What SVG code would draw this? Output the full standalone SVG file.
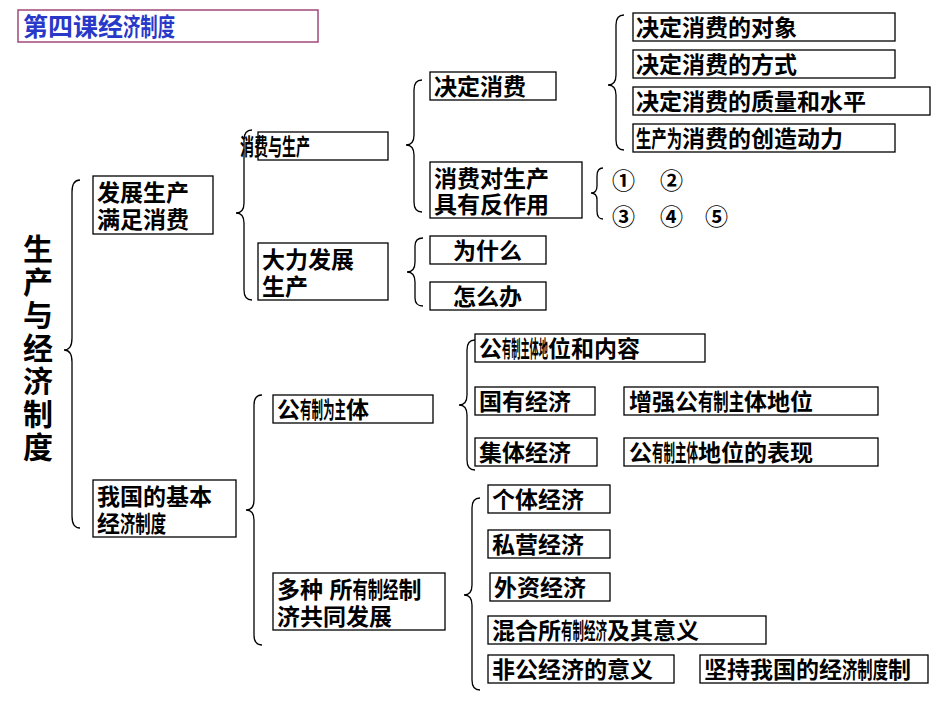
<svg xmlns="http://www.w3.org/2000/svg" width="950" height="713" viewBox="0 0 950 713">
<style>
.b{fill:#fff;stroke:#000;stroke-width:1.3}
text{font-family:"Liberation Sans","Noto Sans CJK SC",sans-serif;font-weight:bold;font-size:23px;fill:#000}
.br{fill:none;stroke:#000;stroke-width:1.3}
.v{font-size:30px}
</style>
<rect width="950" height="713" fill="#fff"/>
<g id="title"><rect x="18" y="10" width="300" height="32" fill="#fff" stroke="#a04878" stroke-width="1.5"/>
<text x="23" y="36" style="fill:#2838c8;font-size:25px">第四课经<tspan textLength="52" lengthAdjust="spacingAndGlyphs">济制度</tspan></text></g>
<g id="root"><text class="v" x="23" y="260">生</text><text class="v" x="23" y="293">产</text><text class="v" x="23" y="326">与</text><text class="v" x="23" y="359">经</text><text class="v" x="23" y="392">济</text><text class="v" x="23" y="425">制</text><text class="v" x="23" y="458">度</text></g>
<g id="connectors">
<path class="br" d="M80,180 Q72,180 72,192 L72,338 Q72,350 64,350 Q72,350 72,362 L72,516 Q72,528 80,528"/>
<path class="br" d="M252,130 Q244,130 244,140 L244,203 Q244,213 236,213 Q244,213 244,223 L244,290 Q244,300 252,300"/>
<path class="br" d="M422,80 Q414,80 414,90 L414,135 Q414,145 406,145 Q414,145 414,155 L414,202 Q414,212 422,212"/>
<path class="br" d="M624,15 Q616,15 616,25 L616,75 Q616,85 608,85 Q616,85 616,95 L616,140 Q616,150 624,150"/>
<path class="br" d="M603,168 Q597,168 597,176 L597,186 Q597,193 591,193 Q597,193 597,200 L597,211 Q597,219 603,219"/>
<path class="br" d="M423,238 Q415,238 415,246 L415,262 Q415,272 407,272 Q415,272 415,282 L415,298 Q415,306 423,306"/>
<path class="br" d="M475,340 Q467,340 467,350 L467,395 Q467,405 459,405 Q467,405 467,415 L467,460 Q467,470 475,470"/>
<path class="br" d="M262,395 Q254,395 254,405 L254,500 Q254,510 246,510 Q254,510 254,520 L254,635 Q254,645 262,645"/>
<path class="br" d="M480,498 Q472,498 472,508 L472,585 Q472,595 464,595 Q472,595 472,605 L472,680 Q472,690 480,690"/>
</g>
<g id="n1"><rect class="b" x="93" y="176" width="120" height="58"/><text x="97" y="201">发展生产</text><text x="97" y="228">满足消费</text></g>
<g id="n2"><rect class="b" x="93" y="480" width="143" height="57"/><text x="97" y="505">我国的基本</text><text x="97" y="532">经<tspan textLength="46" lengthAdjust="spacingAndGlyphs">济制度</tspan></text></g>
<g id="n3"><rect class="b" x="258" y="132" width="130" height="28"/><text x="240" y="155" textLength="70" lengthAdjust="spacingAndGlyphs">消费与生产</text></g>
<g id="n4"><rect class="b" x="258" y="243" width="130" height="57"/><text x="262" y="268">大力发展</text><text x="262" y="295">生产</text></g>
<g id="n5"><rect class="b" x="430" y="72" width="126" height="28"/><text x="434" y="95">决定消费</text></g>
<g id="n6"><rect class="b" x="430" y="162" width="152" height="56"/><text x="434" y="187">消费对生产</text><text x="434" y="213">具有反作用</text></g>
<g id="n7"><rect class="b" x="633" y="13" width="262" height="28"/><text x="636" y="36">决定消费的对象</text></g>
<g id="n8"><rect class="b" x="633" y="50" width="262" height="28"/><text x="636" y="73">决定消费的方式</text></g>
<g id="n9"><rect class="b" x="633" y="87" width="297" height="28"/><text x="636" y="110">决定消费的质量和水平</text></g>
<g id="n10"><rect class="b" x="633" y="124" width="262" height="28"/><text x="636" y="147"><tspan textLength="46" lengthAdjust="spacingAndGlyphs">生产为</tspan>消费的创造动力</text></g>
<g id="n11"><text x="612" y="189">①</text><text x="660" y="189">②</text><text x="612" y="225">③</text><text x="660" y="225">④</text><text x="705" y="225">⑤</text></g>
<g id="n12"><rect class="b" x="430" y="236" width="116" height="28"/><text x="453" y="259">为什么</text></g>
<g id="n13"><rect class="b" x="430" y="282" width="116" height="28"/><text x="453" y="305">怎么办</text></g>
<g id="n14"><rect class="b" x="273" y="395" width="160" height="28"/><text x="277" y="418">公<tspan textLength="46" lengthAdjust="spacingAndGlyphs">有制为主</tspan>体</text></g>
<g id="n15"><rect class="b" x="475" y="334" width="230" height="28"/><text x="479" y="357">公<tspan textLength="46" lengthAdjust="spacingAndGlyphs">有制主体地</tspan>位和内容</text></g>
<g id="n16"><rect class="b" x="475" y="387" width="120" height="28"/><text x="479" y="410">国有经济</text></g>
<g id="n17"><rect class="b" x="624" y="387" width="254" height="28"/><text x="629" y="410">增强公<tspan textLength="46" lengthAdjust="spacingAndGlyphs">有制主</tspan>体地位</text></g>
<g id="n18"><rect class="b" x="475" y="438" width="122" height="28"/><text x="479" y="461">集体经济</text></g>
<g id="n19"><rect class="b" x="624" y="438" width="254" height="28"/><text x="629" y="461">公<tspan textLength="46" lengthAdjust="spacingAndGlyphs">有制主体</tspan>地位的表现</text></g>
<g id="n20"><rect class="b" x="273" y="573" width="172" height="57"/><text x="277" y="598">多种 所<tspan textLength="46" lengthAdjust="spacingAndGlyphs">有制经</tspan>制</text><text x="277" y="625">济共同发展</text></g>
<g id="n21"><rect class="b" x="488" y="485" width="122" height="28"/><text x="492" y="508">个体经济</text></g>
<g id="n22"><rect class="b" x="488" y="530" width="122" height="28"/><text x="492" y="553">私营经济</text></g>
<g id="n23"><rect class="b" x="490" y="573" width="120" height="28"/><text x="494" y="596">外资经济</text></g>
<g id="n24"><rect class="b" x="488" y="616" width="278" height="28"/><text x="492" y="639">混合所<tspan textLength="46" lengthAdjust="spacingAndGlyphs">有制经济</tspan>及其意义</text></g>
<g id="n25"><rect class="b" x="488" y="655" width="186" height="28"/><text x="492" y="678">非公经济的意义</text></g>
<g id="n26"><rect class="b" x="700" y="655" width="228" height="28"/><text x="704" y="678">坚持我国的经<tspan textLength="46" lengthAdjust="spacingAndGlyphs">济制度</tspan>制</text></g>
</svg>
